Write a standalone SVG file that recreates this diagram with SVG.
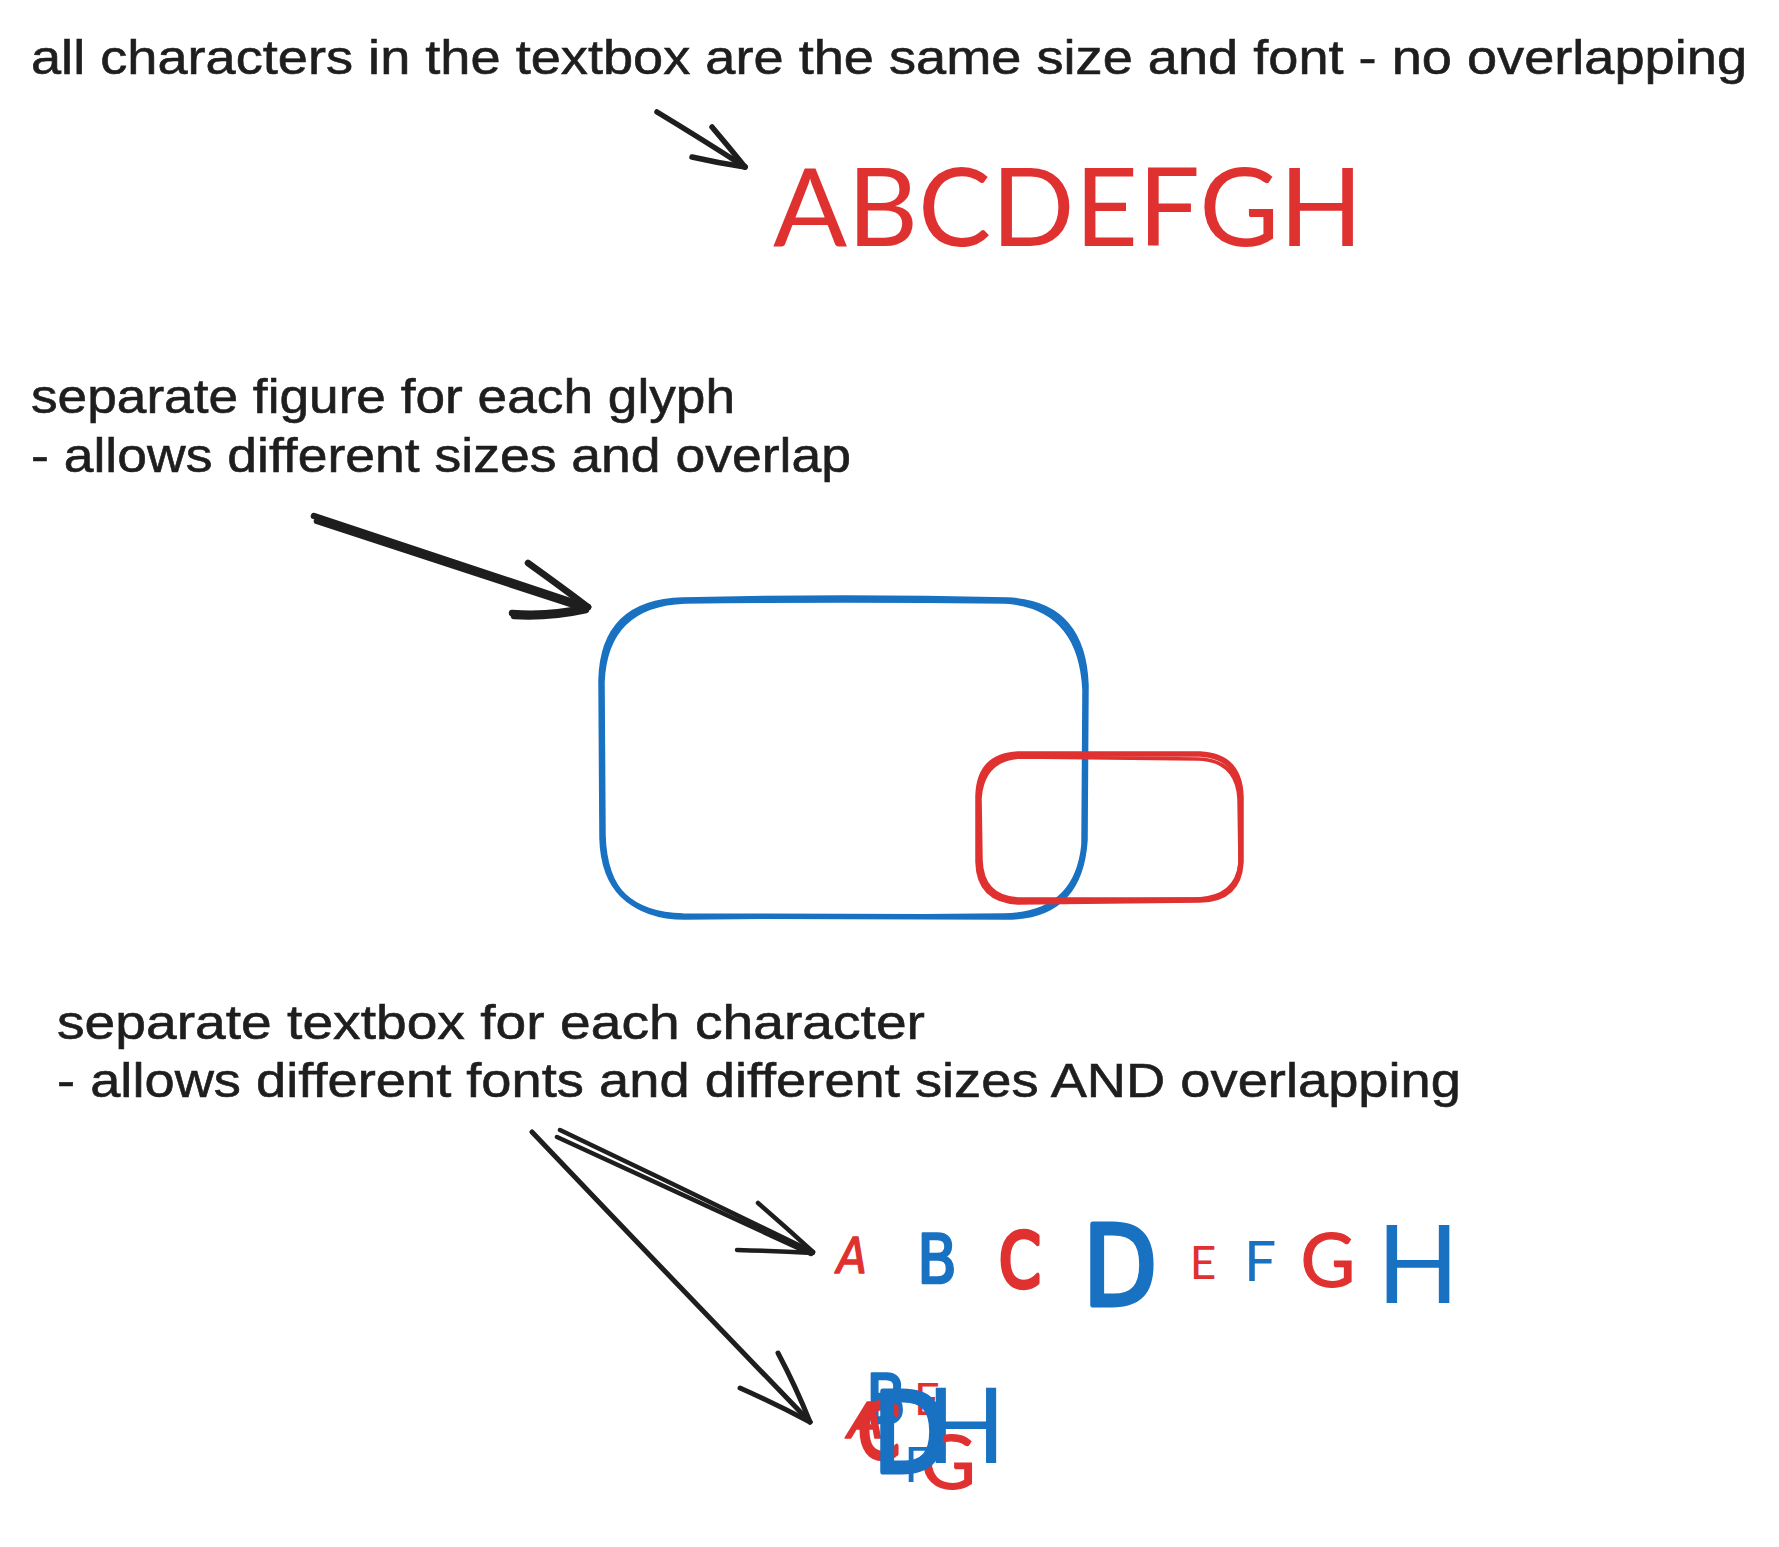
<svg xmlns="http://www.w3.org/2000/svg" width="1779" height="1547" viewBox="0 0 1779 1547">
<style>
  .note { font-family: "Liberation Sans", Arial, sans-serif; font-size: 49px; fill: #1e1e1e; stroke: #1e1e1e; stroke-width: 0.6; }
  .sans { font-family: "Lato", "Open Sans", sans-serif; text-anchor: middle; }
  .hand { font-family: "DejaVu Sans", "Liberation Sans", sans-serif; text-anchor: middle; stroke-linejoin: round; stroke-linecap: round; }
  .red { fill: #e03131; }
  .blue { fill: #1971c2; }
  .hred { fill: #e03131; stroke: #e03131; }
  .hblue { fill: #1971c2; stroke: #1971c2; }
  .arrow { fill: none; stroke: #1e1e1e; stroke-linecap: round; stroke-linejoin: round; }
  .box { fill: none; stroke-linecap: round; stroke-linejoin: round; }
</style>
<rect width="1779" height="1547" fill="#ffffff"/>

<g id="label-top">
  <text class="note" x="31" y="74" textLength="1716" lengthAdjust="spacingAndGlyphs">all characters in the textbox are the same size and font - no overlapping</text>
</g>

<g id="single-textbox">
  <text class="red" x="773" y="246" font-family="Lato, 'Open Sans', sans-serif" font-size="108" textLength="590" lengthAdjust="spacingAndGlyphs">ABCDEFGH</text>
</g>

<g id="label-figure">
  <text class="note" x="31" y="413" textLength="704" lengthAdjust="spacingAndGlyphs">separate figure for each glyph</text>
  <text class="note" x="31" y="472" textLength="820" lengthAdjust="spacingAndGlyphs">- allows different sizes and overlap</text>
</g>

<g id="figure-blue">
  <path class="box" stroke="#1971c2" stroke-width="5.5" d="M683,600 Q845,596 1007,600 Q1083,603 1086,685 L1085,840 Q1080,917 1006,917 L683,916 Q604,914 602,838 L601,680 Q603,602 683,600 Z"/>
  <path class="box" stroke="#1971c2" stroke-width="3.5" d="M685,602 Q845,600 1005,602 Q1080,607 1084,690 L1083,845 Q1076,914 1004,915 L685,918 Q606,918 604,835 L603,682 Q606,605 685,602"/>
</g>

<g id="figure-red">
  <path class="box" stroke="#e03131" stroke-width="5.5" d="M1018,754 L1200,754 Q1240,756 1241,797 L1241,862 Q1239,899 1200,900 L1018,902 Q979,900 978,862 L978,796 Q979,756 1018,754 Z"/>
  <path class="box" stroke="#e03131" stroke-width="3.5" d="M1020,757 L1198,759 Q1237,760 1239,799 L1240,864 Q1236,897 1198,899 L1020,899 Q982,898 981,860 L980,798 Q983,759 1020,757"/>
</g>

<g id="label-textbox">
  <text class="note" x="57" y="1039" textLength="868" lengthAdjust="spacingAndGlyphs">separate textbox for each character</text>
  <text class="note" x="57" y="1097" textLength="1404" lengthAdjust="spacingAndGlyphs">- allows different fonts and different sizes AND overlapping</text>
</g>

<g id="letters-row">
  <g id="row-A"><text class="hand hred" x="852" y="1273" font-size="50" font-style="italic" stroke-width="1.5" textLength="30" lengthAdjust="spacingAndGlyphs">A</text></g>
  <g id="row-B"><text class="hand hblue" x="937" y="1283" font-size="68" stroke-width="2.5" textLength="40" lengthAdjust="spacingAndGlyphs">B</text></g>
  <g id="row-C"><text class="hand hred" x="1020" y="1287" font-size="74" stroke-width="4.5" textLength="42" lengthAdjust="spacingAndGlyphs">C</text></g>
  <g id="row-D"><text class="hand hblue" x="1120" y="1305" font-size="110" stroke-width="5" textLength="74" lengthAdjust="spacingAndGlyphs">D</text></g>
  <g id="row-E"><text class="sans red" x="1203" y="1279" font-size="46">E</text></g>
  <g id="row-F"><text class="sans blue" x="1260" y="1281" font-size="57">F</text></g>
  <g id="row-G"><text class="sans red" x="1328" y="1287" font-size="75" stroke="#e03131" stroke-width="1.2">G</text></g>
  <g id="row-H"><text class="sans blue" x="1418" y="1303" font-size="108">H</text></g>
</g>

<g id="letters-overlap">
  <g id="ov-B"><text class="hand hblue" x="886" y="1423" font-size="68" stroke-width="2.5" textLength="40" lengthAdjust="spacingAndGlyphs">B</text></g>
  <g id="ov-E"><text class="sans red" x="927" y="1415" font-size="45">E</text></g>
  <g id="ov-H"><text class="sans blue" x="966" y="1463" font-size="104">H</text></g>
  <g id="ov-A"><text class="hand hred" x="866" y="1438" font-size="50" font-style="italic" stroke-width="1.5" textLength="36" lengthAdjust="spacingAndGlyphs">A</text></g>
  <g id="ov-C"><text class="hand hred" x="879" y="1458" font-size="74" stroke-width="4.5" textLength="42" lengthAdjust="spacingAndGlyphs">C</text></g>
  <g id="ov-G"><text class="sans red" x="948" y="1489" font-size="76" stroke="#e03131" stroke-width="1.2">G</text></g>
  <g id="ov-D"><text class="hand hblue" x="910" y="1472" font-size="110" stroke-width="5" textLength="74" lengthAdjust="spacingAndGlyphs">D</text></g>
  <g id="ov-F"><text class="sans blue" x="918" y="1482" font-size="49">F</text></g>
</g>

<g id="connectors">
  <g id="arrow-top" class="arrow" stroke-width="5.5">
    <path d="M657,112 Q700,138 745,167"/>
    <path d="M712,127 Q729,147 745,167"/>
    <path d="M692,157 Q718,163 745,167"/>
  </g>
  <g id="arrow-figure" class="arrow" stroke-width="6.5">
    <path d="M314,516 Q450,561 588,607"/>
    <path d="M317,521 Q452,565 586,609"/>
    <path d="M528,563 Q560,586 588,607"/>
    <path d="M512,613 Q550,616 588,607"/>
    <path d="M514,616 Q550,618 586,610"/>
  </g>
  <g id="arrow-row" class="arrow" stroke-width="4.5">
    <path d="M560,1130 Q686,1190 813,1252"/>
    <path d="M557,1137 Q684,1196 811,1254"/>
    <path d="M758,1203 Q787,1228 813,1252"/>
    <path d="M737,1250 Q775,1251 813,1253"/>
  </g>
  <g id="arrow-overlap" class="arrow" stroke-width="5">
    <path d="M532,1132 Q670,1277 810,1422"/>
    <path d="M778,1353 Q796,1387 810,1422"/>
    <path d="M740,1388 Q776,1404 810,1422"/>
  </g>
</g>
</svg>
